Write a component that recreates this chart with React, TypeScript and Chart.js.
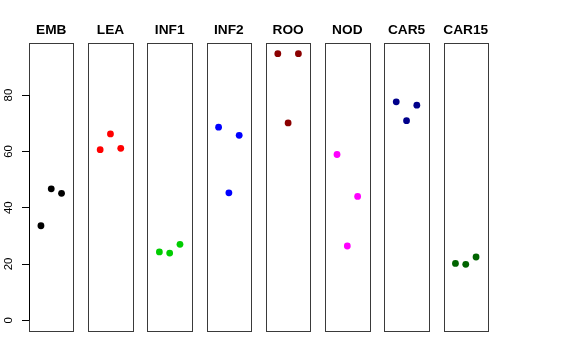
import React, { useEffect, useRef } from 'react';
import { Chart, registerables } from 'chart.js';
Chart.register(...registerables);

const categories = ['EMB', 'LEA', 'INF1', 'INF2', 'ROO', 'NOD', 'CAR5', 'CAR15'];
const embValues = [33.6, 46.7, 45.1];
const leaValues = [60.6, 66.2, 61.1];
const inf1Values = [24.3, 23.9, 27.0];
const inf2Values = [68.6, 45.3, 65.7];
const rooValues = [94.7, 70.1, 94.7];
const nodValues = [58.9, 26.4, 44.0];
const car5Values = [77.6, 70.9, 76.4];
const car15Values = [20.2, 19.9, 22.5];
const seriesValues = [embValues, leaValues, inf1Values, inf2Values, rooValues, nodValues, car5Values, car15Values];
const colors = ['#000000', '#FF0000', '#00CD00', '#0000FF', '#8B0000', '#FF00FF', '#00008B', '#006400'];
const yTicks = [0, 20, 40, 60, 80];

const PANEL_STEP = 5.75;
const PANEL_MIN = -0.16;
const PANEL_MAX = 4.16;
const Y_MIN = -3.79;
const Y_MAX = 98.5;

const panelsPlugin = {
  id: 'panels',
  beforeDatasetsDraw(chart: any) {
    const ctx = chart.ctx;
    const xs = chart.scales.x;
    const ys = chart.scales.y;
    const top = chart.chartArea.top;
    const bottom = chart.chartArea.bottom;
    ctx.save();
    ctx.strokeStyle = '#3a3a3a';
    ctx.lineWidth = 1;
    categories.forEach((name, i) => {
      const l = Math.round(xs.getPixelForValue(i * PANEL_STEP + PANEL_MIN)) + 0.5;
      const r = Math.round(xs.getPixelForValue(i * PANEL_STEP + PANEL_MAX)) + 0.5;
      ctx.strokeRect(l, Math.round(top) + 0.5, r - l, Math.round(bottom) - Math.round(top));
      ctx.fillStyle = '#000';
      ctx.font = 'bold 13.7px "Liberation Sans", Arial, sans-serif';
      ctx.textAlign = 'center';
      ctx.textBaseline = 'alphabetic';
      ctx.fillText(name, xs.getPixelForValue(i * PANEL_STEP + 2), 34);
    });
    // y axis line from first to last tick
    const ax = Math.round(chart.chartArea.left) + 0.5;
    ctx.strokeStyle = '#000';
    ctx.beginPath();
    ctx.moveTo(ax, ys.getPixelForValue(yTicks[0]));
    ctx.lineTo(ax, ys.getPixelForValue(yTicks[yTicks.length - 1]));
    ctx.stroke();
    ctx.fillStyle = '#000';
    ctx.font = '11.4px "Liberation Sans", Arial, sans-serif';
    ctx.textAlign = 'center';
    ctx.textBaseline = 'middle';
    yTicks.forEach((v) => {
      ctx.save();
      ctx.translate(8.5, ys.getPixelForValue(v));
      ctx.rotate(-Math.PI / 2);
      ctx.fillText(String(v), 0, 0);
      ctx.restore();
    });
    ctx.restore();
  },
};

export default function App() {
  const ref = useRef<HTMLCanvasElement>(null);
  useEffect(() => {
    if (!ref.current) return;
    const datasets = seriesValues.map((vals, i) => ({
      label: categories[i],
      data: vals.map((v, j) => ({ x: i * PANEL_STEP + (j + 1), y: v })),
      backgroundColor: colors[i],
      borderColor: colors[i],
      borderWidth: 0,
      pointRadius: 3.4,
      pointHoverRadius: 3.4,
      showLine: false,
    }));
    const chart = new Chart(ref.current, {
      type: 'scatter',
      data: { datasets },
      plugins: [panelsPlugin],
      options: {
        animation: false,
        responsive: false,
        maintainAspectRatio: false,
        layout: { padding: { left: 0, top: 43, right: 88, bottom: 29 } },
        plugins: { legend: { display: false }, tooltip: { enabled: false }, title: { display: false } },
        scales: {
          x: {
            type: 'linear',
            display: false,
            min: PANEL_MIN,
            max: 7 * PANEL_STEP + PANEL_MAX,
          },
          y: {
            type: 'linear',
            min: Y_MIN,
            max: Y_MAX,
            afterBuildTicks: (scale: any) => {
              scale.ticks = yTicks.map((v) => ({ value: v }));
            },
            afterFit: (scale: any) => {
              scale.width = 29;
            },
            border: { display: false },
            grid: { display: true, drawOnChartArea: false, drawTicks: true, tickLength: 7, color: '#000', lineWidth: 1 },
            ticks: { display: false },
          },
        },
      },
    });
    return () => chart.destroy();
  }, []);
  return (
    <div style={{ position: 'fixed', left: 0, top: 0, width: 576, height: 360, background: '#fff' }}>
      <canvas ref={ref} width={576} height={360} style={{ width: 576, height: 360 }} />
    </div>
  );
}
